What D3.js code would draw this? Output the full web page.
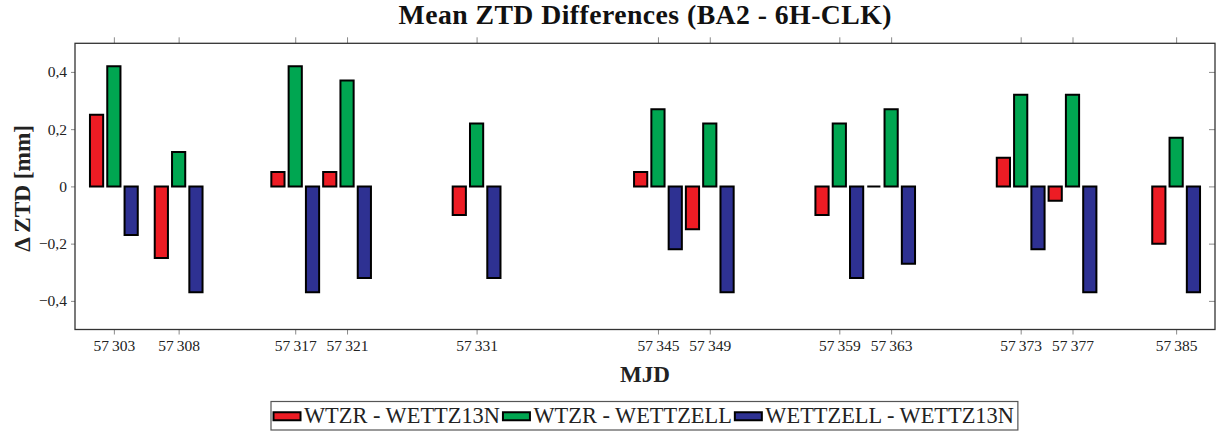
<!DOCTYPE html>
<html>
<head>
<meta charset="utf-8">
<script src="https://cdn.jsdelivr.net/npm/d3@7"></script>
<style>
  html, body { margin: 0; padding: 0; background: #fff; }
  svg { display: block; }
</style>
</head>
<body>
<svg id="chart" width="1217" height="432"></svg>
<script>
// ---- data ----
const categories = [57303, 57308, 57317, 57321, 57331, 57345, 57349, 57359, 57363, 57373, 57377, 57385];
const seriesNames = ["WTZR - WETTZ13N", "WTZR - WETTZELL", "WETTZELL - WETTZ13N"];
const wtzrWettz13n     = [0.25, -0.25, 0.05, 0.05, -0.10, 0.05, -0.15, -0.10, 0.00, 0.10, -0.05, -0.20];
const wtzrWettzell     = [0.42,  0.12, 0.42, 0.37,  0.22, 0.27,  0.22,  0.22, 0.27, 0.32,  0.32,  0.17];
const wettzellWettz13n = [-0.17, -0.37, -0.37, -0.32, -0.32, -0.22, -0.37, -0.32, -0.27, -0.22, -0.37, -0.37];
const seriesColors = ["#ED1C24", "#00A651", "#2E3192"];
const yTicks = [-0.4, -0.2, 0, 0.2, 0.4];
const xDomain = [57300, 57388];
const yDomain = [-0.5, 0.5];

const titleText = "Mean ZTD Differences (BA2 - 6H-CLK)";
const xLabel = "MJD";
const yLabel = "\u0394 ZTD [mm]";

// ---- layout ----
const plot = { left: 75, right: 1215, top: 43.3, bottom: 329.5 };
const barPitch = 17.3;
const barWidth = 13.2;
const serif = "'Liberation Serif', 'Times New Roman', 'DejaVu Serif', serif";

const svg = d3.select("#chart");

const x = d3.scaleLinear().domain(xDomain).range([plot.left, plot.right]);
const y = d3.scaleLinear().domain(yDomain).range([plot.bottom, plot.top]);

const locale = d3.formatLocale({ decimal: ",", thousands: "\u2009", grouping: [3], currency: ["", ""], minus: "\u2212" });
const xFmt = locale.format(",d");
const yFmt = d => d === 0 ? "0" : locale.format(".1f")(d);

// fit a text element's font size so its natural width equals target
function fitWidth(sel, target) {
  const s0 = parseFloat(sel.attr("font-size"));
  const w = sel.node().getComputedTextLength();
  if (w > 0) sel.attr("font-size", (s0 * target / w).toFixed(2));
  return sel;
}

const series = [wtzrWettz13n, wtzrWettzell, wettzellWettz13n].map((vals, i) => ({
  name: seriesNames[i], color: seriesColors[i], offset: (i - 1) * barPitch,
  values: categories.map((c, j) => ({ c, v: vals[j] }))
}));

// ---- bars ----
const gBars = svg.append("g");
series.forEach(s => {
  gBars.selectAll(null).data(s.values).enter().append("path")
    .attr("d", d => {
      const cx = x(d.c) + s.offset;
      const x0 = cx - barWidth / 2, x1 = cx + barWidth / 2;
      const y0 = y(0), y1 = y(d.v);
      return `M${x0},${y0}H${x1}V${y1}H${x0}Z`;
    })
    .attr("fill", s.color)
    .attr("stroke", "#000")
    .attr("stroke-width", 2)
    .attr("stroke-linejoin", "miter");
});

// ---- axes ----
const tickColor = "#8a8a8a";
const fontTick = 15.5;

const xAxisB = d3.axisBottom(x).tickValues(categories).tickFormat(xFmt).tickSize(5).tickPadding(3);
const gxb = svg.append("g").attr("transform", `translate(0,${plot.bottom})`).call(xAxisB);
const xAxisT = d3.axisTop(x).tickValues(categories).tickFormat("").tickSize(6);
const gxt = svg.append("g").attr("transform", `translate(0,${plot.top})`).call(xAxisT);
const yAxisL = d3.axisLeft(y).tickValues(yTicks).tickFormat(yFmt).tickSize(4).tickPadding(4);
const gyl = svg.append("g").attr("transform", `translate(${plot.left},0)`).call(yAxisL);
const yAxisR = d3.axisLeft(y).tickValues(yTicks).tickFormat("").tickSize(6);
const gyr = svg.append("g").attr("transform", `translate(${plot.right},0)`).call(yAxisR);

[gxb, gxt, gyl, gyr].forEach(g => {
  g.select(".domain").remove();
  g.selectAll(".tick line").attr("stroke", tickColor).attr("stroke-width", 1);
  g.selectAll("text").attr("font-family", serif).attr("font-size", fontTick).attr("fill", "#222");
});
gxb.selectAll("text").attr("dy", "0.85em");

// frame
svg.append("rect")
  .attr("x", plot.left).attr("y", plot.top)
  .attr("width", plot.right - plot.left).attr("height", plot.bottom - plot.top)
  .attr("fill", "none").attr("stroke", "#333").attr("stroke-width", 1.3);

// ---- labels ----
const title = svg.append("text")
  .attr("x", (plot.left + plot.right) / 2).attr("y", 23.5)
  .attr("text-anchor", "middle")
  .attr("font-family", serif).attr("font-weight", "bold").attr("font-size", 24)
  .attr("fill", "#111")
  .text(titleText);
fitWidth(title, 478);
title.attr("textLength", 493).attr("lengthAdjust", "spacing");

const xl = svg.append("text")
  .attr("x", (plot.left + plot.right) / 2).attr("y", 382)
  .attr("text-anchor", "middle")
  .attr("font-family", serif).attr("font-weight", "bold").attr("font-size", 22)
  .attr("fill", "#222")
  .text(xLabel);
fitWidth(xl, 50);

const yl = svg.append("text")
  .attr("transform", `translate(30,${(plot.top + plot.bottom) / 2 + 2}) rotate(-90)`)
  .attr("text-anchor", "middle")
  .attr("font-family", serif).attr("font-weight", "bold").attr("font-size", 22)
  .attr("fill", "#222")
  .text(yLabel);
fitWidth(yl, 127);

// ---- legend ----
const leg = { x: 271, y: 401.5, h: 28.5, swW: 27, swH: 8, fontSize: 21 };
const gLeg = svg.append("g");
const legBox = gLeg.append("rect")
  .attr("x", leg.x).attr("y", leg.y).attr("height", leg.h)
  .attr("fill", "#fff").attr("stroke", "#555").attr("stroke-width", 1.2);
// determine font size so the first entry matches the reference width
const probe = gLeg.append("text").attr("font-family", serif).attr("font-size", leg.fontSize).text(seriesNames[0]);
fitWidth(probe, 196);
const legFont = parseFloat(probe.attr("font-size"));
probe.remove();
let cursor = leg.x + 2.5;
const midY = leg.y + leg.h / 2;
series.forEach(s => {
  gLeg.append("rect")
    .attr("x", cursor).attr("y", midY - leg.swH / 2 + 0.5)
    .attr("width", leg.swW).attr("height", leg.swH)
    .attr("fill", s.color).attr("stroke", "#000").attr("stroke-width", 2);
  cursor += leg.swW + 3.5;
  const t = gLeg.append("text")
    .attr("x", cursor).attr("y", midY + 7)
    .attr("font-family", serif).attr("font-size", legFont).attr("fill", "#222")
    .text(s.name);
  cursor += t.node().getComputedTextLength() + 3;
});
legBox.attr("width", cursor - leg.x + 1);
</script>
</body>
</html>
